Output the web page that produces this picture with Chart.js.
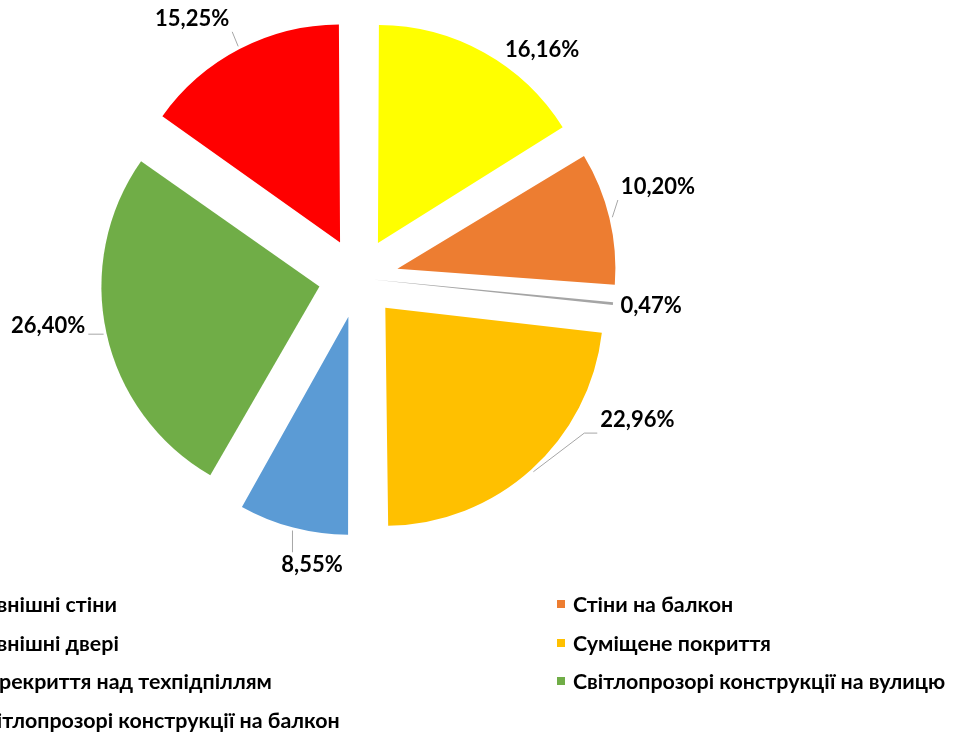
<!DOCTYPE html>
<html lang="uk">
<head>
<meta charset="utf-8">
<script src="https://cdn.jsdelivr.net/npm/chart.js@4.4.1/dist/chart.umd.min.js"></script>
<style>
  html, body { margin: 0; padding: 0; background: #fff; overflow: hidden; }
  body { width: 954px; height: 736px; position: relative; }
  #pie { position: absolute; left: 0; top: 0; }
  #legend {
    position: absolute; left: -44px; top: 585px;
    display: grid; grid-template-columns: 601px auto; grid-auto-rows: 38.5px;
    font: bold 21.4px Lato, sans-serif; color: #000;
  }
  .item { display: flex; align-items: center; white-space: nowrap; }
  .item i { width: 8px; height: 8px; margin-right: 8px; flex: none; }
</style>
</head>
<body>
<canvas id="pie" width="954" height="590"></canvas>
<div id="legend"></div>
<script>
// shares of heat loss by building element, %
var labels = [
  'Зовнішні стіни',
  'Стіни на балкон',
  'Зовнішні двері',
  'Суміщене покриття',
  'Перекриття над техпідпіллям',
  'Світлопрозорі конструкції на вулицю',
  'Світлопрозорі конструкції на балкон'
];
var shares = [16.16, 10.20, 0.47, 22.96, 8.55, 26.40, 15.25];
var colors = ['#FFFF00', '#ED7D31', '#A5A5A5', '#FFC000', '#5B9BD5', '#70AD47', '#FF0000'];

// label placement: angle clockwise from 12 o'clock, distance from the pie centre
var labelAngle = [38.8, 73.1, 95.5, 117.0, 189.2, 261.2, 327.3];
var labelDist = [293, 313, 294, 313, 291, 314, 308];
var leader = [false, true, false, true, true, true, true];

var RADIUS = 218;
var EXPLODE = 40;
// the doors sliver vanishes in Chart.js when pushed out the full 40px,
// so it is pushed out less and reaches further to end at the same rim
var sliceShift = [EXPLODE, EXPLODE, 14.25, EXPLODE, EXPLODE, EXPLODE, EXPLODE];
var sliceReach = [RADIUS, RADIUS, 241.5, RADIUS, RADIUS, RADIUS, RADIUS];

// Chart.js moves an arc by offset/4 and also grows thin arcs outward,
// so take that growth back off to keep the slices at their radius
var explodeFix = {
  id: 'explodeFix',
  beforeDatasetsDraw: function(chart) {
    chart.getDatasetMeta(0).data.forEach(function(arc, i) {
      var fix = 1 - Math.sin(Math.min(Math.PI, arc.circumference));
      arc.outerRadius = sliceReach[i] - (arc.options.offset / 4) * fix;
    });
  }
};

// percentage labels with grey leader lines
var pctLabels = {
  id: 'pctLabels',
  afterDatasetsDraw: function(chart) {
    var ctx = chart.ctx;
    var arcs = chart.getDatasetMeta(0).data;
    ctx.save();
    ctx.font = 'bold 22px Lato, sans-serif';
    ctx.textAlign = 'center';
    ctx.textBaseline = 'middle';
    arcs.forEach(function(arc, i) {
      var a = (labelAngle[i] - 90) * Math.PI / 180;
      var lx = arc.x + Math.cos(a) * labelDist[i];
      var ly = arc.y + Math.sin(a) * labelDist[i];
      var text = shares[i].toFixed(2).replace('.', ',') + '%';
      if (leader[i]) {
        var w = ctx.measureText(text).width;
        var box = { l: lx - w / 2 - 3, r: lx + w / 2 + 3, t: ly - 13, b: ly + 13 };
        var mid = (arc.startAngle + arc.endAngle) / 2;
        var rr = sliceShift[i] + sliceReach[i] + 3;
        var sx = arc.x + Math.cos(mid) * rr;
        var sy = arc.y + Math.sin(mid) * rr;
        var ex = Math.min(Math.max(sx, box.l), box.r);
        var ey = Math.min(Math.max(sy, box.t), box.b);
        var side = ex === box.l ? -1 : (ex === box.r ? 1 : 0);
        ctx.beginPath();
        ctx.moveTo(sx, sy);
        if (side && Math.abs(ex - sx) > 20 && Math.abs(ey - sy) > 15) {
          ctx.lineTo(ex + side * 13, ey);
        }
        ctx.lineTo(ex, ey);
        ctx.strokeStyle = '#A6A6A6';
        ctx.lineWidth = 1;
        ctx.stroke();
      }
      ctx.fillStyle = '#000';
      ctx.fillText(text, lx, ly);
    });
    ctx.restore();
  }
};

new Chart('pie', {
  type: 'pie',
  data: {
    labels: labels,
    datasets: [{
      data: shares,
      backgroundColor: colors,
      borderWidth: 0,
      offset: sliceShift.map(function(s) { return s * 4; }),
      radius: RADIUS
    }]
  },
  options: {
    responsive: false,
    animation: false,
    layout: { padding: { left: 0, top: 0, right: 237, bottom: 34 } },
    plugins: {
      legend: { display: false },
      tooltip: { enabled: false }
    }
  },
  plugins: [explodeFix, pctLabels]
});

// two-column legend under the pie
var legend = document.getElementById('legend');
labels.forEach(function(name, i) {
  var item = document.createElement('div');
  item.className = 'item';
  var box = document.createElement('i');
  box.style.background = colors[i];
  item.appendChild(box);
  item.appendChild(document.createTextNode(name));
  legend.appendChild(item);
});
</script>
</body>
</html>
